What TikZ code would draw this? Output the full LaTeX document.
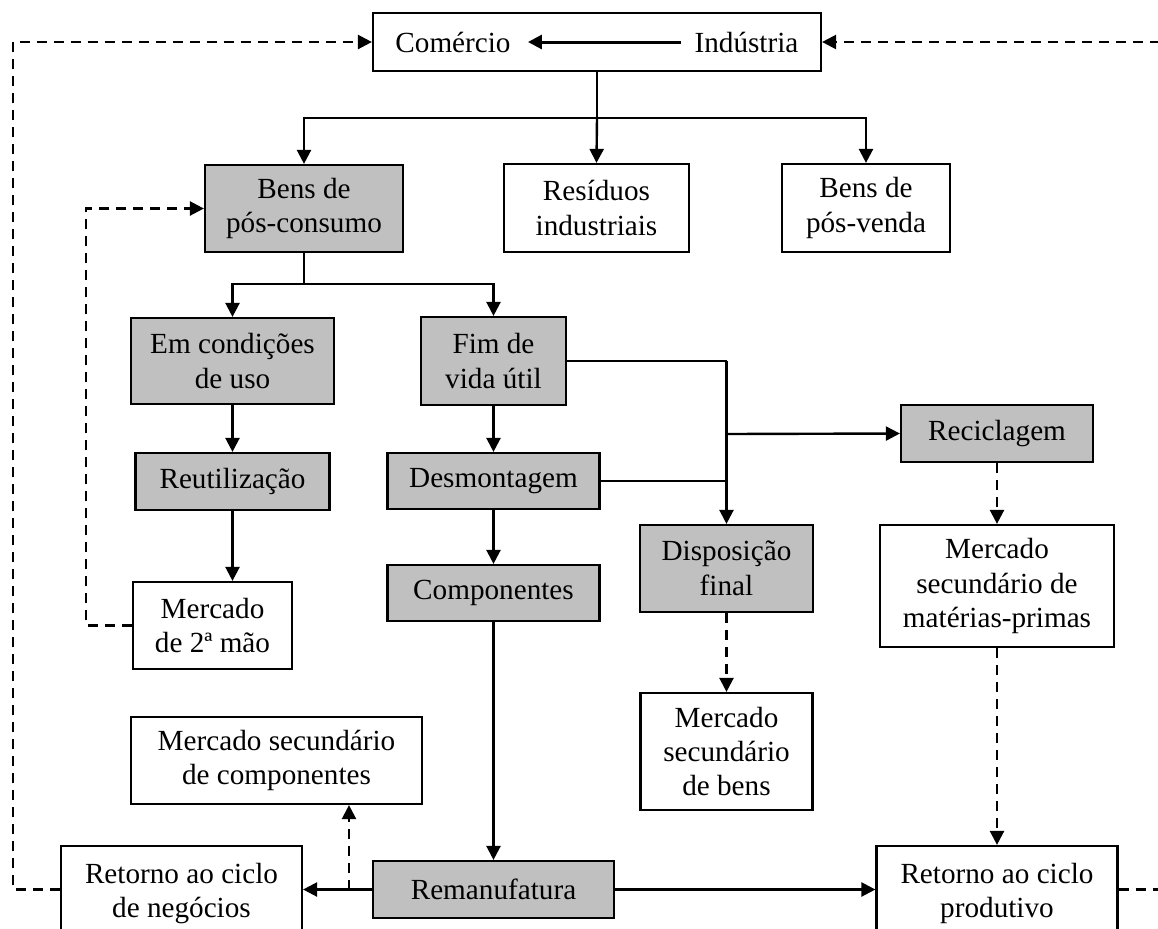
\documentclass[tikz,border=0pt]{standalone}
\usepackage{fontspec}
\setmainfont{Liberation Serif}
\usetikzlibrary{arrows.meta}
\definecolor{boxgray}{HTML}{C0C0C0}
\begin{document}
\begin{tikzpicture}[x=0.5pt,y=-0.5pt,
  box/.style={draw=black,line width=1.1pt,inner sep=0pt,align=center,
    font=\fontsize{14.6}{17.25}\selectfont},
  gbox/.style={box,fill=boxgray},
  plain/.style={inner sep=0pt,font=\fontsize{14.6}{17.25}\selectfont},
  flow/.style={line width=1.2pt,-{Triangle[length=7pt,width=7pt]}},
  link/.style={line width=1.2pt},
  ret/.style={line width=1.2pt,dash pattern=on 5pt off 3.5pt,-{Triangle[length=7pt,width=7pt]}}]
\useasboundingbox (0,0) rectangle (1158,928);

% origin of the flows
\node[box,minimum width=224pt,minimum height=29pt] (top) at (597,42) {};
\node[plain] (com) at (453,42) {Comércio};
\node[plain] (ind) at (746.5,42) {Indústria};
\draw[flow,line width=1.5pt,shorten <=6.5pt,shorten >=8.5pt] (ind.west) -- (com.east);

% second level
\node[gbox,minimum width=99pt,minimum height=43.5pt] (pc) at (304,208.5) {Bens de\\pós-consumo};
\node[box,minimum width=92.5pt,minimum height=44pt] (res) at (596.5,208) {Resíduos\\industriais};
\node[box,minimum width=84pt,minimum height=44pt] (pv) at (866,208) {Bens de\\pós-venda};

% post-consumption branches
\node[gbox,minimum width=101.5pt,minimum height=43pt] (ecu) at (232.5,361) {Em condições\\de uso};
\node[gbox,minimum width=72.5pt,minimum height=44pt] (fvu) at (493.5,361) {Fim de\\vida útil};
\node[gbox,minimum width=97pt,minimum height=28.5pt] (reu) at (232.5,481.5) {Reutilização};
\node[gbox,minimum width=106pt,minimum height=28pt] (des) at (493.5,481) {Desmontagem};
\node[gbox,minimum width=96pt,minimum height=28.5pt] (rec) at (997,433.5) {Reciclagem};
\node[box,minimum width=79.5pt,minimum height=43.5pt] (m2m) at (212.5,625.5) {Mercado\\de 2ª mão};
\node[gbox,minimum width=106pt,minimum height=28pt] (comp) at (493.5,593) {Componentes};
\node[gbox,minimum width=86.5pt,minimum height=43.5pt] (dfi) at (726.5,568.5) {Disposição\\final};
\node[box,minimum width=117pt,minimum height=61pt] (msmp) at (997,586) {Mercado\\secundário de\\matérias-primas};
\node[box,minimum width=86pt,minimum height=58.5pt] (msb) at (726.5,751.5) {Mercado\\secundário\\de bens};
\node[box,minimum width=145.5pt,minimum height=43.5pt] (msc) at (276.5,760.5) {Mercado secundário\\de componentes};

% bottom row
\node[box,minimum width=120.5pt,minimum height=47.5pt] (rneg) at (181.5,893.5) {Retorno ao ciclo\\de negócios};
\node[gbox,minimum width=120.5pt,minimum height=28.5pt] (rem) at (493.5,889.5) {Remanufatura};
\node[box,minimum width=120.5pt,minimum height=47.5pt] (rprod) at (997,893.5) {Retorno ao ciclo\\produtivo};

% junction points
\coordinate (j1) at (597,118);
\coordinate (j2) at (304,284);
\coordinate (j3) at (726.5,361);
\coordinate (j4) at (726.5,434);
\coordinate (j5) at (726.5,481);
\coordinate (lft) at (13,889.5);
\coordinate (lftt) at (13,42);
\coordinate (rgt) at (1166,889.5);
\coordinate (rgtt) at (1166,42);
\coordinate (loop) at (86,625.5);
\coordinate (loopt) at (86,208.5);
\coordinate (msctail) at (349,889.5);

% solid flows
\draw[link] (top.south) -- (j1);
\draw[flow] (j1) -| (pc.north);
\draw[flow] (j1) -| (pv.north);
\draw[flow] (j1) -- (res.north);
\draw[link] (pc.south) -- (j2);
\draw[flow] (j2) -| (ecu.north);
\draw[flow] (j2) -| (fvu.north);
\draw[flow] (ecu.south) -- (reu.north);
\draw[flow] (reu.south) -- (reu.south |- m2m.north);
\draw[flow] (fvu.south) -- (des.north);
\draw[flow] (des.south) -- (comp.north);
\draw[flow] (comp.south) -- (rem.north);
\draw[link] (fvu.east) -- (j3);
\draw[flow] (j3) -- (dfi.north);
\draw[link] (des.east) -- (j5);
\draw[flow] (j4) -- (rec.west);
\draw[flow] (rem.west) -- (rem.west -| rneg.east);
\draw[flow] (rem.east) -- (rem.east -| rprod.west);

% dashed returns
\draw[ret] (rec.south) -- (msmp.north);
\draw[ret] (msmp.south) -- (rprod.north);
\draw[ret] (dfi.south) -- (msb.north);
\draw[ret] (msctail) -- (msctail |- msc.south);
\draw[ret] (m2m.west) -- (loop) -- (loopt) -- (pc.west);
\draw[ret] (rem.west -| rneg.west) -- (lft) -- (lftt) -- (top.west);
\draw[ret] (rem.east -| rprod.east) -- (rgt) -- (rgtt) -- (top.east);
\end{tikzpicture}
\end{document}
